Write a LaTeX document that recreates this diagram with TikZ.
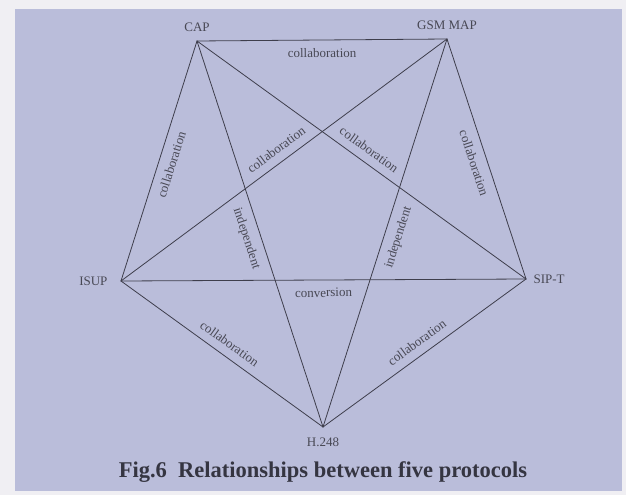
\documentclass[tikz,border=0pt]{standalone}
\usepackage{fontspec}
\setmainfont{Liberation Serif}
\usepackage{xcolor}
\usetikzlibrary{positioning}
\definecolor{paper}{RGB}{186,189,218}
\definecolor{margin}{RGB}{240,239,243}
\definecolor{ink}{RGB}{62,62,76}
\definecolor{inktext}{RGB}{72,72,84}
\tikzset{
  proto/.style={font=\fontsize{13}{15}\selectfont, text=inktext},
  rel/.style={font=\fontsize{13}{15}\selectfont, text=inktext, sloped, midway, inner sep=8pt},
  link/.style={draw=ink, line width=0.8pt},
  every picture/.style={line cap=round, line join=round}
}

\begin{document}
\begin{tikzpicture}[x=1pt,y=-1pt]
  \fill[margin] (0,0) rectangle (626,495);
  \fill[paper] (15,9) rectangle (622,491);
  \useasboundingbox (0,0) rectangle (626,495);
  % the five protocols
  \coordinate (cap) at (197,41);
  \coordinate (gsm) at (447,39);
  \coordinate (isup) at (121,281);
  \coordinate (sipt) at (526,279);
  \coordinate (h248) at (323,427);
  \node[proto, above=6pt of cap] (capname) {CAP};
  \node[proto, above=6pt of gsm] (gsmname) {GSM MAP};
  \node[proto, left=10pt of isup] (isupname) {ISUP};
  \node[proto, right=4pt of sipt] (siptname) {SIP-T};
  \node[proto, below=7pt of h248] (h248name) {H.248};
  % outer pentagon
  \draw[link] (cap) -- node[rel, below] {collaboration} (gsm);
  \draw[link] (isup) -- node[rel, below] {collaboration} (cap);
  \draw[link] (gsm) -- node[rel, below] {collaboration} (sipt);
  \draw[link] (isup) -- node[rel, above] {collaboration} (h248);
  \draw[link] (h248) -- node[rel, above] {collaboration} (sipt);
  % inner star
  \draw[link] (cap) -- node[rel, above] {collaboration} (sipt);
  \draw[link] (isup) -- node[rel, above] {collaboration} (gsm);
  \draw[link] (cap) -- node[rel, below] {independent} (h248);
  \draw[link] (h248) -- node[rel, below] {independent} (gsm);
  \draw[link] (isup) -- node[rel, below] {conversion} (sipt);
  \node[font=\bfseries\fontsize{22.5}{26}\selectfont, text=ink!85!black] (title) at (323,472) {Fig.6\ \ Relationships between five protocols};
\end{tikzpicture}
\end{document}
